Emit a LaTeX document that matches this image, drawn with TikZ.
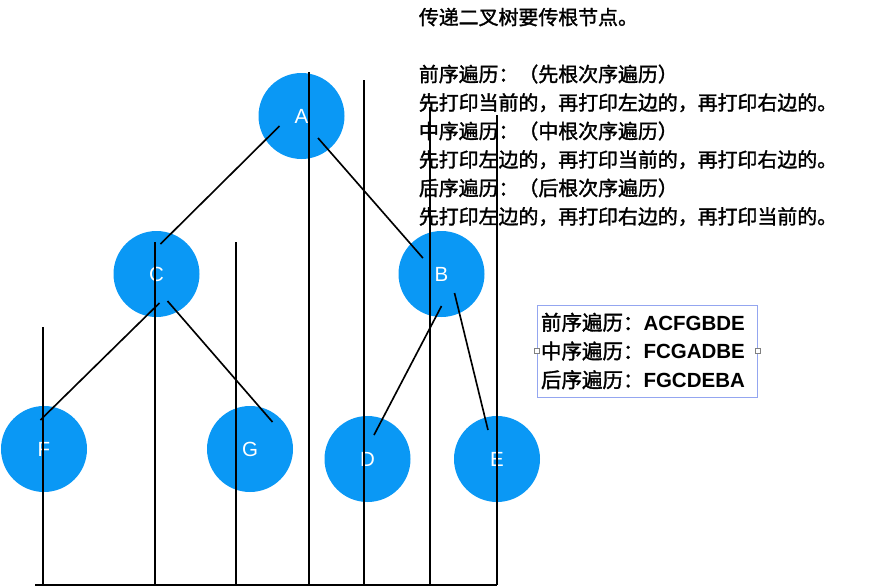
\documentclass[tikz,border=0pt]{standalone}
\usepackage{fontspec}
\setmainfont{Liberation Sans}
\newfontfamily\cjk[FakeBold=1.6]{Noto Sans CJK SC}
\usetikzlibrary{calc}
\definecolor{treeblue}{HTML}{0A98F5}
\definecolor{boxline}{HTML}{94A6F0}

\begin{document}
\begin{tikzpicture}[x=0.3mm, y=-0.3mm, line width=1.5pt,
  treenode/.style={circle, fill=treeblue, minimum size=25.8mm, inner sep=0pt,
    text=white, font=\fontsize{17.5}{18}\selectfont},
  edge/.style={black, line width=1.4pt},
  note/.style={align=left, inner sep=0pt, font=\cjk\fontsize{17}{24.3}\selectfont},
  infobox/.style={draw=boxline, line width=0.6pt, align=left, text width=63.6mm,
    inner xsep=1.2mm, minimum height=27.6mm, font=\fontsize{17.5}{24.5}\selectfont},
  handle/.style={draw=gray, fill=white, line width=0.4pt, minimum size=1.5mm, inner sep=0pt}]
  \useasboundingbox (0,0) rectangle (880,587);

  % tree
  \node[treenode] (A) at (301.5,116) {A};
  \node[treenode] (C) at (156.5,274) {C};
  \node[treenode] (B) at (441.5,274) {B};
  \node[treenode] (F) at (44,449) {F};
  \node[treenode] (G) at (250,449) {G};
  \node[treenode] (D) at (367.5,459) {D};
  \node[treenode] (E) at (497,459) {E};

  \draw[edge] ($(A)+(-22,10)$) -- ($(C)+(4,-30)$);
  \draw[edge] ($(A)+(16.5,22)$) -- ($(B)+(-18.6,-16)$);
  \draw[edge] ($(C)+(3,29)$) -- ($(F)+(-3.6,-29)$);
  \draw[edge] ($(C)+(11,27)$) -- ($(G)+(22.5,-27)$);
  \draw[edge] ($(B)+(0,32)$) -- ($(D)+(6.5,-24)$);
  \draw[edge] ($(B)+(13,19)$) -- ($(E)+(-9,-29)$);

  % guide lines
  \foreach \x/\t in {43/327,155/242,236/242,309/72,364/80,430/107,497/115}
    \draw (\x,\t) -- (\x,585);
  \draw (35,585) -- (497,585);

  % notes
  \node[note, anchor=north west] (rules) at (418,7) {传递二叉树要传根节点。\\[24.3pt]
    前序遍历：（先根次序遍历）\\
    先打印当前的，再打印左边的，再打印右边的。\\
    中序遍历：（中根次序遍历）\\
    先打印左边的，再打印当前的，再打印右边的。\\
    后序遍历：（后根次序遍历）\\
    先打印左边的，再打印右边的，再打印当前的。};

  \node[infobox] (trav) at (647,351) {{\cjk 前序遍历：}\textbf{ACFGBDE}\\
    {\cjk 中序遍历：}\textbf{FCGADBE}\\
    {\cjk 后序遍历：}\textbf{FGCDEBA}};
  \node[handle] at (trav.west) {};
  \node[handle] at (trav.east) {};
\end{tikzpicture}
\end{document}
